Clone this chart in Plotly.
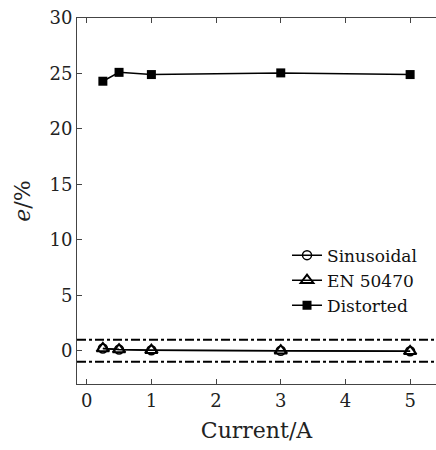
import plotly.graph_objects as go

current = [0.25, 0.5, 1, 3, 5]
sinusoidal = [0.2, 0.1, 0.05, 0.0, -0.05]
en50470 = [0.2, 0.1, 0.05, 0.0, -0.05]
distorted = [24.3, 25.1, 24.9, 25.05, 24.9]
limits = [1, -1]
xticks = [0, 1, 2, 3, 4, 5]
yticks = [0, 5, 10, 15, 20, 25, 30]

FONT = "DejaVu Serif, serif"

fig = go.Figure()
fig.add_trace(go.Scatter(x=current, y=sinusoidal, name="Sinusoidal", mode="lines+markers",
                         line=dict(color="black", width=1.5),
                         marker=dict(symbol="circle-open", size=9, color="black", line=dict(width=1.5))))
fig.add_trace(go.Scatter(x=current, y=en50470, name="EN 50470", mode="lines+markers",
                         line=dict(color="black", width=1.5),
                         marker=dict(symbol="triangle-up-open", size=11, color="black", line=dict(width=2))))
fig.add_trace(go.Scatter(x=current, y=distorted, name="Distorted", mode="lines+markers",
                         line=dict(color="black", width=1.5),
                         marker=dict(symbol="square", size=9, color="black")))

for v in limits:
    fig.add_shape(type="line", xref="paper", x0=0, x1=1, yref="y", y0=v, y1=v,
                  line=dict(color="black", width=2, dash="9px,3px,3px,3px"))

fig.update_layout(
    width=436, height=450,
    margin=dict(l=77, r=0, t=18, b=66),
    plot_bgcolor="white", paper_bgcolor="white",
    font=dict(family=FONT, size=18, color="#222"),
    legend=dict(x=0.585, y=0.40, xanchor="left", yanchor="top", bgcolor="rgba(0,0,0,0)",
                font=dict(size=17, family=FONT, color="#111"), itemwidth=30, tracegroupgap=0),
    showlegend=True,
)
fig.update_xaxes(range=[-0.15, 5.4], tickvals=xticks, ticks="inside", ticklen=5, tickcolor="#444",
                 tickfont=dict(size=18, family=FONT),
                 showline=True, linecolor="#444", linewidth=1, mirror="ticks", showgrid=False,
                 zeroline=False, title=dict(text="Current/A", font=dict(size=22, family=FONT, color="#222"), standoff=13))
fig.update_yaxes(range=[-3, 30], tickvals=yticks, ticks="inside", ticklen=5, tickcolor="#444",
                 tickfont=dict(size=18, family=FONT),
                 showline=True, linecolor="#444", linewidth=1, showgrid=False, zeroline=False,
                 title=dict(text="<i>e</i>/%", font=dict(size=22, family=FONT, color="#222"), standoff=12))

fig.write_html("out.html")
